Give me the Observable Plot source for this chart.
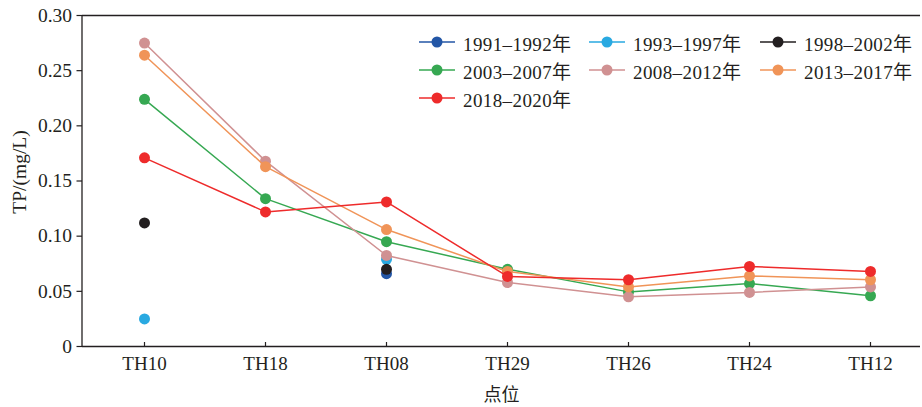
<!DOCTYPE html>
<html><head><meta charset="utf-8">
<script src="https://cdn.jsdelivr.net/npm/d3@7"></script>
<script src="https://cdn.jsdelivr.net/npm/@observablehq/plot@0.6"></script>
<style>
body{margin:0;background:#fff;}
#wrap{position:relative;width:922px;height:407px;}
#legend{position:absolute;left:419px;top:28px;display:grid;grid-template-columns:170px 171px 170px;grid-auto-rows:28px;font-family:"Liberation Serif","Noto Sans CJK SC",serif;font-size:19px;letter-spacing:0.4px;color:#231f20;}
.item{display:flex;align-items:center;white-space:nowrap;}
.item svg{margin-right:8px;flex:none;}
</style></head><body><div id="wrap"><div id="legend"></div></div>
<script>
const sites = ["TH10","TH18","TH08","TH29","TH26","TH24","TH12"];
const periods = ["1991–1992年","1993–1997年","1998–2002年","2003–2007年","2008–2012年","2013–2017年","2018–2020年"];
const colors = ["#2356a6","#29a9e1","#231f20","#36a852","#d09192","#f09458","#ee2b2b"];
const tp1991 = [null,null,0.066,null,null,null,null];
const tp1993 = [0.025,null,0.079,null,null,null,null];
const tp1998 = [0.112,null,0.070,null,null,null,null];
const tp2003 = [0.224,0.134,0.095,0.070,0.0495,0.057,0.046];
const tp2008 = [0.275,0.168,0.0825,0.058,0.045,0.049,0.054];
const tp2013 = [0.264,0.163,0.106,0.068,0.054,0.064,0.0605];
const tp2018 = [0.171,0.122,0.131,0.0635,0.0605,0.0725,0.068];
const yTicks = [0,0.05,0.10,0.15,0.20,0.25,0.30];
const yTickLabels = ["0","0.05","0.10","0.15","0.20","0.25","0.30"];
const yLabel = "TP/(mg/L)";
const xLabel = "点位";

const seriesValues = [tp1991,tp1993,tp1998,tp2003,tp2008,tp2013,tp2018];
const rows = periods.flatMap((p,i)=>sites.map((s,j)=>({period:p, site:s, tp: seriesValues[i][j]==null ? NaN : seriesValues[i][j]})));

const ink = "#231f20";
const seriesMarks = periods.flatMap(p=>{
  const d = rows.filter(r=>r.period===p);
  return [
    Plot.line(d, {x:"site", y:"tp", stroke:"period", strokeWidth:1.5}),
    Plot.dot(d.filter(r=>Number.isFinite(r.tp)), {x:"site", y:"tp", fill:"period", r:5.5, stroke:null})
  ];
});

const leftLine = (index, scales, values, dims) => {
  const l = document.createElementNS("http://www.w3.org/2000/svg","line");
  l.setAttribute("x1", dims.marginLeft); l.setAttribute("x2", dims.marginLeft);
  l.setAttribute("y1", dims.marginTop); l.setAttribute("y2", dims.height - dims.marginBottom);
  l.setAttribute("stroke", ink); l.setAttribute("stroke-width", 1.3);
  return l;
};

const chart = Plot.plot({
  width: 922, height: 407,
  marginLeft: 82, marginRight: 2, marginTop: 15, marginBottom: 61,
  style: {fontFamily: '"Liberation Serif","Noto Sans CJK SC",serif', fontSize: "18px", color: ink, background: "#fff"},
  x: {type: "point", domain: sites, range: [143, 870], padding: 0, axis: null},
  y: {domain: [0, 0.30], axis: null},
  color: {domain: periods, range: colors},
  marks: [
    Plot.ruleY([0, 0.30], {stroke: ink, strokeWidth: 1.3}),
    leftLine,
    Plot.ruleX(sites, {x: d=>d, y1: 0, y2: 0, insetTop: -4, stroke: ink, strokeWidth: 1.2}),
    Plot.axisY(yTicks, {tickSize: 5.5, tickPadding: 5, tickFormat: d=>yTickLabels[yTicks.indexOf(d)], label: null, color: ink, fontSize: 19.5, strokeWidth: 1.2}),
    Plot.axisX(sites, {tickSize: 0, tickPadding: 10, label: null, color: ink, fontSize: 19}),
    Plot.text([yLabel], {frameAnchor: "left", textAnchor: "middle", rotate: -90, dx: -63, dy: -9, fontSize: 19.5, fill: ink}),
    Plot.text([xLabel], {frameAnchor: "bottom", lineAnchor: "middle", dy: 49, fontSize: 18, fill: ink}),
    ...seriesMarks
  ]
});
const wrap = document.getElementById("wrap");
wrap.insertBefore(chart, wrap.firstChild);

const legend = document.getElementById("legend");
periods.forEach((p,i)=>{
  const it = document.createElement("div"); it.className = "item";
  it.innerHTML = `<svg width="36" height="12"><line x1="0" x2="36" y1="6" y2="6" stroke="${colors[i]}" stroke-width="1.5"/><circle cx="18" cy="6" r="5.5" fill="${colors[i]}"/></svg><span>${p}</span>`;
  legend.appendChild(it);
});
</script></body></html>
